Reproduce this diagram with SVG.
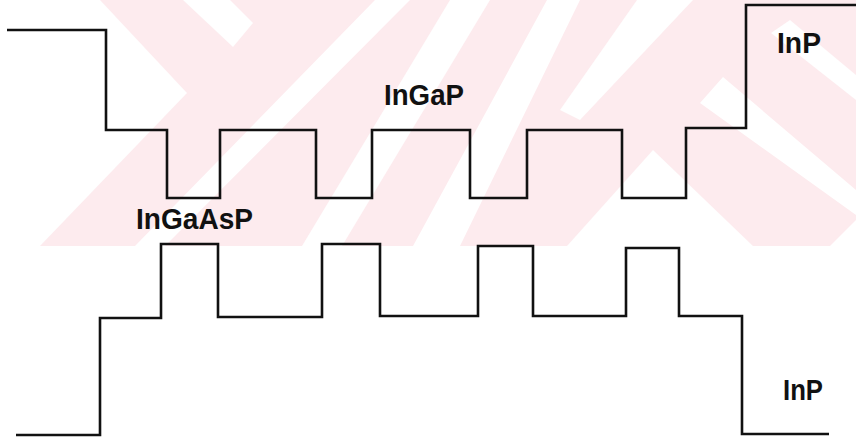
<svg xmlns="http://www.w3.org/2000/svg" width="856" height="438" viewBox="0 0 856 438">
<style>
.wm{fill:#fdebee}
.wh{fill:#ffffff}
.band{fill:none;stroke:#111;stroke-width:2.6;stroke-linejoin:miter}
.lbl{font-family:"Liberation Sans",Arial,sans-serif;font-weight:bold;font-size:29px;fill:#111}
</style>
<rect width="856" height="438" fill="#ffffff"/>
<g id="watermark">
<rect class="wm" x="40" y="0" width="816" height="246"/>
<polygon class="wh" points="0,0 100,0 187,93 40,246 0,246"/>
<polygon class="wh" points="183,0 230,0 253,23 233,47"/>
<polygon class="wh" points="375,0 410,0 165,246 135,246"/>
<polygon class="wh" points="450,0 490,0 342,246 302,246"/>
<polygon class="wh" points="547,0 580,0 460,246 413,246"/>
<polygon class="wh" points="637,0 693,0 580,120 560,110"/>
<polygon class="wh" points="771,33 790,20 856,75 856,100"/>
<polygon class="wh" points="723,77 856,190 856,215 700,103"/>
<polygon class="wh" points="653,150 753,246 567,246"/>
<polygon class="wh" points="830,246 856,246 856,220"/>
</g>
<g id="connectors">
<path id="conduction-band" class="band" d="M7,30 H106 V130 H167 V198 H220 V130 H316 V198 H372 V130 H470 V198 H527 V130 H622 V198 H686 V128 H746 V5 H856"/>
<path id="valence-band" class="band" d="M16,435 H100 V318 H161 V244 H218 V317 H322 V244 H380 V316 H478 V246 H533 V316 H626 V248 H679 V316 H742 V434 H829"/>
</g>
<g id="label-inp-top"><text class="lbl" x="777" y="53" textLength="44" lengthAdjust="spacingAndGlyphs">InP</text></g>
<g id="label-ingap"><text class="lbl" x="384" y="105" textLength="80" lengthAdjust="spacingAndGlyphs">InGaP</text></g>
<g id="label-ingaasp"><text class="lbl" x="136" y="229" textLength="117" lengthAdjust="spacingAndGlyphs">InGaAsP</text></g>
<g id="label-inp-bottom"><text class="lbl" x="783" y="400" textLength="40" lengthAdjust="spacingAndGlyphs">InP</text></g>
</svg>
